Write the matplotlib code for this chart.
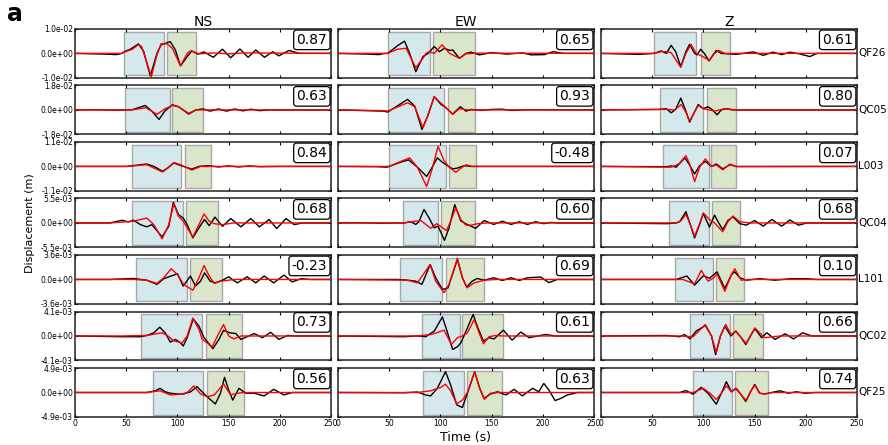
#!/usr/bin/env python
# -*- coding: utf-8 -*-

import matplotlib
matplotlib.use('Agg')
import matplotlib.pyplot as plt
from matplotlib.patches import Rectangle
import matplotlib.transforms as mtransforms

components = ['NS', 'EW', 'Z']
stations = ['QF26', 'QC05', 'L003', 'QC04', 'L101', 'QC02', 'QF25']
amps = [1.0e-2, 1.8e-2, 1.1e-2, 5.5e-3, 3.6e-3, 4.1e-3, 4.9e-3]

coefs = [
    ['0.87', '0.65', '0.61'],
    ['0.63', '0.93', '0.80'],
    ['0.84', '-0.48', '0.07'],
    ['0.68', '0.60', '0.68'],
    ['-0.23', '0.69', '0.10'],
    ['0.73', '0.61', '0.66'],
    ['0.56', '0.63', '0.74'],
]

# time windows (s): (blue start, blue end, green start, green end)
windows = [
    [(48, 86.6, 90, 118.6), (48.8, 89.8, 93.2, 133.8), (52.3, 93, 98, 125.8)],
    [(49, 92.5, 95, 125), (48.8, 103.5, 107.4, 133.5), (57.8, 99.6, 103.5, 132.4)],
    [(55.5, 103, 107, 133), (49.8, 105.9, 108.8, 134.9), (60.5, 105.2, 107.5, 132.4)],
    [(55.5, 105.6, 108.5, 139.5), (63.5, 97.7, 100.7, 134.2), (66.3, 105.2, 108.5, 136.3)],
    [(59.5, 109, 112.4, 143.8), (60.6, 102, 105.5, 143), (71.9, 109.8, 112, 139.9)],
    [(64.4, 123.8, 127.5, 162.7), (82.4, 118.8, 121.5, 161), (87.2, 125.8, 129, 158.5)],
    [(75.8, 125, 128.4, 165), (83.4, 123, 126.4, 160.5), (89.9, 128, 130.7, 163.3)],
]

# traces: (time s, amplitude as fraction of the row's axis limit)
obs = [
    [
        [(0, 0), (30, -0.03), (40, -0.05), (46, 0), (48, 0.07), (54, 0.17), (62, 0.39), (67, 0.08), (73.5, -0.92), (80, 0.0), (84, 0.35), (93, 0.48), (98, 0.14), (103, -0.51), (109.5, -0.13), (114, 0.1), (120, -0.03), (126, 0.06), (135, -0.16), (144, 0.17), (152, -0.18), (161, 0.18), (169, -0.16), (176.5, 0.14), (185, -0.16), (193, 0.07), (199, -0.1), (209, 0.12), (219, 0.0), (250, 0)],
        [(0, 0), (30, -0.03), (40, -0.05), (46, 0), (48.5, 0.0), (58, 0.31), (65, 0.5), (70, 0.0), (76, -0.75), (83, -0.13), (88, 0.0), (94, 0.28), (99, 0.07), (104, 0.21), (109, 0.12), (112, 0.14), (118.6, -0.2), (125, 0.0), (130, 0.05), (138, -0.06), (150, 0.03), (165, -0.03), (180, 0.02), (188.6, -0.06), (201.6, -0.05), (210, 0.07), (220, 0), (250, 0)],
        [(0, 0), (37.6, -0.04), (52, 0.0), (59, 0.1), (64, 0.0), (68.6, 0.33), (73, 0.07), (78, -0.54), (83, 0.07), (86.6, 0.37), (91.5, 0.0), (94, -0.06), (97.4, 0.17), (101, 0.0), (105.5, -0.31), (109.5, -0.06), (112.7, 0.12), (117.6, 0.0), (132, -0.04), (149, 0.06), (158.5, -0.08), (168, 0.05), (176.5, -0.05), (184.6, 0.05), (194, -0.02), (204, -0.13), (211, 0.0), (250, 0)],
    ],
    [
        [(0, 0), (20, 0.01), (40, -0.01), (55, 0.0), (59, 0.05), (68.6, 0.18), (75, -0.05), (82, -0.39), (87.6, -0.05), (95, 0.21), (101, 0.13), (111, -0.17), (118, 0.0), (125, 0.04), (132, -0.05), (140, 0.04), (148, -0.05), (156, 0.04), (164, -0.04), (172, 0.03), (180, -0.03), (190, 0.0), (250, 0)],
        [(0, 0), (45, -0.05), (48.5, -0.09), (56.7, 0.13), (68, 0.43), (75, 0.15), (82, -0.8), (87.6, -0.25), (94, 0.54), (100.7, 0.22), (105.5, 0.09), (112, -0.17), (119.5, 0.13), (125, -0.05), (130, 0.02), (140, -0.02), (150, 0.02), (160, 0.03), (170, -0.02), (185, 0.01), (250, 0)],
        [(0, 0), (57, 0.02), (64, 0.05), (68.6, -0.12), (73, 0.02), (78, 0.48), (83, -0.05), (86.6, -0.5), (91, -0.12), (95, 0.22), (100, 0.05), (104.6, 0.13), (109, 0.0), (113.4, -0.2), (117.6, 0.0), (122.5, 0.05), (130, 0.0), (250, 0)],
    ],
    [
        [(0, 0), (50.6, 0), (70, 0.1), (77, 0.0), (85.6, -0.2), (91.5, -0.03), (96.4, 0.14), (103, 0.04), (108, -0.03), (114, -0.11), (121, 0.0), (130, 0.03), (140, -0.02), (150, 0.02), (160, -0.02), (170, 0.02), (180, -0.01), (200, 0), (250, 0)],
        [(0, 0), (38, -0.01), (48, -0.03), (50, 0.0), (61, 0.17), (69, 0.27), (77.5, -0.03), (86.6, -0.41), (92, -0.03), (97, 0.35), (102, 0.17), (107, 0.03), (112, -0.1), (116.6, -0.07), (123, 0.03), (130, 0.0), (250, 0)],
        [(0, 0), (64, -0.01), (68.6, 0.02), (73.5, -0.03), (82, 0.35), (86, 0.1), (91.5, -0.31), (96.4, 0.03), (102, 0.21), (108, 0.0), (112.7, 0.1), (119, -0.1), (126, 0.07), (132, 0.0), (250, 0)],
    ],
    [
        [(0, 0), (34, 0), (46, 0.11), (52, 0.04), (57, 0.11), (64, -0.07), (70, -0.16), (75, -0.07), (85, -0.57), (91.5, -0.14), (96, 0.84), (101, 0.34), (105.6, 0.2), (109.5, -0.07), (115, -0.61), (121, -0.2), (126.5, 0.14), (131, -0.11), (136.6, 0.24), (144, -0.14), (152, 0.18), (162, -0.16), (171.6, 0.18), (180, -0.16), (189.5, 0.14), (197, -0.23), (206, 0.18), (214, -0.07), (222, 0.0), (250, 0)],
        [(0, 0), (20, 0.01), (40, -0.01), (58, 0.0), (64.5, 0.0), (71, 0.05), (76, -0.06), (79, 0.05), (84, 0.55), (89, 0.2), (94, -0.2), (97.7, -0.13), (104, -0.71), (108.5, -0.2), (114, 0.75), (120, 0.08), (126, -0.06), (134.5, -0.22), (142.7, 0.1), (152, -0.06), (160.6, 0.07), (169, -0.06), (177, 0.05), (185, -0.06), (193, 0.05), (201, -0.03), (208, 0.02), (215, 0), (250, 0)],
        [(0, 0), (64, -0.03), (73.5, 0.0), (77, 0.05), (83, 0.46), (87, -0.03), (91.5, -0.61), (96.4, -0.06), (100, 0.39), (106, -0.17), (111, 0.32), (115, 0.0), (119, -0.27), (124, 0.1), (129, 0.25), (135.6, -0.03), (142, -0.09), (150, 0.1), (158.5, -0.13), (167, 0.14), (176.5, -0.13), (184.6, 0.12), (193, -0.09), (201, 0.0), (250, 0)],
    ],
    [
        [(0, 0), (34, 0), (57, 0.04), (70, -0.03), (80, -0.2), (86.6, 0.03), (95, 0.16), (100, 0.23), (105.6, -0.27), (112.7, 0.14), (117.6, -0.27), (122.5, -0.07), (126.5, 0.27), (132, -0.07), (137, -0.14), (144, -0.03), (150, 0.11), (158.5, -0.14), (168, 0.11), (176.5, -0.14), (184.6, 0.14), (194, -0.14), (204, 0.18), (212, -0.1), (220.6, 0.03), (230, 0), (250, 0)],
        [(0, 0), (58, 0.0), (68, -0.03), (76, -0.07), (82, -0.2), (90, 0.61), (95.4, 0.07), (102, -0.41), (107.5, -0.34), (116.6, 0.82), (121.5, 0.07), (125.7, -0.31), (131, -0.07), (136, 0.04), (142.7, -0.03), (152, 0.07), (160.6, -0.04), (169, 0.07), (177, -0.04), (185, 0.07), (198, 0.1), (206, -0.13), (214, 0.0), (250, 0)],
        [(0, 0), (73.5, 0.0), (84, 0.14), (91.5, -0.23), (100, 0.15), (106, 0.05), (113.4, 0.31), (121, -0.37), (127.5, 0.2), (130.7, 0.31), (135.6, 0.07), (142, -0.03), (155, 0.03), (170, -0.03), (185, 0.03), (201, 0.03), (210, 0), (250, 0)],
    ],
    [
        [(0, 0), (44, -0.03), (64, -0.03), (70, 0.02), (77, 0.13), (82.7, 0.36), (88, 0.13), (93, -0.25), (98, -0.14), (103, -0.28), (105.6, -0.41), (109.5, -0.07), (115.4, 0.7), (121, 0.4), (126, -0.07), (134.6, -0.52), (140.5, -0.14), (145, 0.23), (151, 0.13), (157, 0.1), (162, -0.14), (175, 0.1), (183, -0.07), (191, 0.15), (199, -0.14), (207.5, 0.02), (215, 0), (250, 0)],
        [(0, 0), (64.5, -0.03), (77.5, 0.0), (85.7, -0.03), (94, 0.2), (102, 0.78), (107, 0.13), (112, -0.55), (116.6, -0.44), (120, -0.28), (123, 0.0), (132, 0.88), (136, 0.4), (142, -0.21), (147.5, -0.07), (152.4, -0.12), (161.5, 0.24), (170, -0.17), (178.5, 0.16), (186.6, -0.07), (194.8, 0.0), (203, 0.06), (212, 0), (250, 0)],
        [(0, 0), (64, 0.02), (77, -0.03), (81.7, 0.06), (87, -0.12), (93, 0.2), (102, 0.43), (108, 0.0), (112, -0.76), (116.7, 0.0), (121, 0.4), (127, 0.0), (131.7, 0.2), (137, -0.07), (141.5, -0.35), (146, 0.0), (150.3, 0.3), (157, -0.07), (162, 0.13), (170, -0.14), (180, 0.09), (188, -0.12), (197, 0.13), (206, 0.0), (250, 0)],
    ],
    [
        [(0, 0), (70, 0.0), (78.4, 0.07), (83, 0.17), (88, 0.03), (93, -0.03), (100, -0.06), (106, -0.06), (113, 0.03), (119, 0.24), (124, 0.03), (129, -0.17), (137, -0.47), (142, -0.03), (146, 0.62), (150, 0.1), (154, -0.31), (160, 0.17), (166.7, -0.03), (174.8, -0.03), (184.6, -0.14), (194, 0.13), (204, -0.1), (212, 0.0), (250, 0)],
        [(0, 0), (64.5, -0.01), (77.5, 0.02), (85.7, -0.1), (90.5, -0.14), (97, 0.17), (105, 0.85), (110, 0.31), (116, -0.51), (121.5, -0.61), (126.4, -0.03), (133.5, 0.85), (138, 0.21), (142.7, -0.24), (148.5, -0.07), (155.7, 0.03), (164, -0.1), (172, 0.13), (180, -0.14), (190, 0.17), (196, 0.03), (201, 0.37), (206, 0.1), (212, -0.33), (217.6, -0.24), (224, -0.1), (234, 0.0), (250, 0)],
        [(0, 0), (77, 0.0), (83, 0.08), (90, -0.07), (98, 0.21), (104.6, -0.03), (112.7, -0.48), (117.6, -0.03), (122.5, 0.44), (127.5, 0.03), (131.7, 0.17), (137, -0.1), (141.5, -0.37), (146, 0.03), (150.3, 0.33), (155, -0.03), (160, -0.06), (166.7, 0.0), (175, 0.07), (183, -0.03), (191, 0.03), (199, -0.03), (210, 0.0), (250, 0)],
    ],
]

syn = [
    [
        [(0, 0), (45, 0), (48, 0.05), (56, 0.17), (62, 0.36), (65, 0.28), (74.5, -0.95), (80, -0.06), (84, 0.39), (90, 0.39), (95, 0.21), (103, -0.51), (109.5, 0.0), (113, 0.11), (121, -0.02), (135, 0.02), (150, -0.02), (165, 0.02), (250, 0)],
        [(0, 0), (45, 0), (48.5, 0), (58, 0.17), (66.5, 0.21), (76, -0.58), (83, -0.2), (86, 0.0), (89, 0.07), (94, 0.0), (101.6, 0.35), (109, 0.0), (118.6, -0.2), (125, -0.02), (135, 0.01), (250, 0)],
        [(0, 0), (52, 0.0), (59, 0.07), (64, 0.07), (68.6, 0.03), (78, -0.57), (83, 0.0), (88, 0.37), (93, 0.0), (98, -0.1), (106, -0.29), (111, 0.0), (115, 0.12), (121, 0.0), (250, 0)],
    ],
    [
        [(0, 0), (55, 0), (59, 0.02), (69, 0.09), (80, -0.18), (88, 0.05), (95, 0.18), (101, 0.13), (111, -0.14), (118, 0.0), (250, 0)],
        [(0, 0), (45, -0.03), (48.5, -0.05), (60, 0.15), (68, 0.29), (75, 0.13), (83, -0.73), (87.6, -0.25), (94, 0.54), (100.7, 0.27), (105.5, 0.09), (112, -0.18), (118.6, 0.05), (127, 0.0), (250, 0)],
        [(0, 0), (64, 0.02), (72, 0.0), (78.4, 0.22), (83, -0.09), (86.6, -0.46), (91, -0.12), (95, 0.18), (100, 0.05), (106, 0.0), (111, -0.05), (121, 0.05), (128, 0.0), (250, 0)],
    ],
    [
        [(0, 0), (50.6, 0), (70, 0.07), (85.6, -0.23), (91.5, -0.03), (96.4, 0.16), (103, 0.07), (114, -0.15), (122.5, 0.0), (250, 0)],
        [(0, 0), (50, 0.0), (61, 0.2), (70, 0.35), (77.5, -0.03), (86.6, -0.82), (92, -0.1), (97.7, 0.82), (103.6, 0.24), (108.5, -0.03), (115, -0.24), (121.5, -0.03), (125, 0.07), (131, 0.0), (250, 0)],
        [(0, 0), (68.6, -0.03), (76, 0.1), (83, 0.44), (86.6, 0.1), (91.5, -0.62), (96.4, -0.03), (102, 0.31), (108, 0.0), (112.7, 0.06), (119, -0.14), (126, 0.1), (132, -0.01), (250, 0)],
    ],
    [
        [(0, 0), (34, 0), (57, 0.07), (70, 0.2), (77, -0.07), (85, -0.65), (91.5, -0.07), (96.4, 0.78), (101, 0.27), (105.6, 0.07), (115, -0.57), (121, -0.07), (126, 0.37), (131, 0.07), (136, -0.03), (144, -0.07), (155, 0.0), (250, 0)],
        [(0, 0), (64.5, 0.0), (81, 0.1), (90.5, -0.22), (96.4, -0.03), (106, -0.31), (110, 0.07), (115, 0.62), (120, 0.14), (125, -0.09), (130, -0.09), (136.6, -0.03), (145, 0.0), (250, 0)],
        [(0, 0), (73.5, 0.0), (78.4, 0.1), (83, 0.35), (87, -0.03), (91.5, -0.54), (96.4, -0.03), (100, 0.41), (106, 0.14), (111, 0.0), (119, -0.36), (124, 0.05), (129, 0.28), (135.6, 0.05), (145, 0.0), (250, 0)],
    ],
    [
        [(0, 0), (57, 0.0), (70, -0.03), (80, -0.16), (86.6, 0.07), (94, 0.44), (100, 0.2), (106, -0.2), (115, -0.44), (121, 0.07), (126, 0.57), (131, 0.14), (136, -0.16), (142, -0.07), (155.6, 0.0), (250, 0)],
        [(0, 0), (68, -0.03), (77.5, -0.14), (90, 0.61), (95.4, -0.07), (103.6, -0.54), (108.5, -0.2), (116.6, 0.86), (121.5, 0.07), (126, -0.34), (133, -0.14), (142.7, -0.03), (155, 0.0), (250, 0)],
        [(0, 0), (80, 0.0), (91.5, -0.18), (98, 0.37), (104.6, -0.07), (109.5, 0.04), (113.4, 0.23), (121, -0.48), (127.5, 0.2), (130.7, 0.44), (137, -0.03), (145, 0.0), (250, 0)],
    ],
    [
        [(0, 0), (44, 0.0), (70, 0.02), (85, 0.13), (90, 0.02), (96.4, -0.2), (104.6, -0.28), (109.5, 0.0), (115, 0.73), (121, 0.27), (124, -0.12), (134, -0.45), (139, 0.0), (145, 0.47), (150, 0.0), (155, -0.12), (162, 0.0), (250, 0)],
        [(0, 0), (77.5, 0.0), (90.5, 0.06), (96.4, 0.13), (103.6, 0.24), (110.7, -0.35), (116.6, -0.07), (121.5, 0.0), (126.4, 0.13), (133, 0.67), (137.8, 0.13), (142, -0.32), (147.5, -0.03), (154, 0.02), (162, 0.0), (250, 0)],
        [(0, 0), (77, 0.0), (90, -0.03), (102, 0.47), (108, 0.0), (112.7, -0.69), (116.7, 0.0), (122, 0.47), (127, 0.06), (131.7, 0.2), (137, -0.07), (142, -0.31), (146, 0.0), (150.3, 0.33), (155, 0.13), (160, -0.07), (168, -0.03), (175, 0.0), (250, 0)],
    ],
    [
        [(0, 0), (70, 0.0), (83, 0.07), (93, -0.1), (103, -0.07), (109.5, 0.0), (116, 0.27), (122.5, -0.06), (129, -0.17), (136, -0.1), (145, 0.35), (152, -0.1), (158, -0.03), (165, 0.0), (250, 0)],
        [(0, 0), (77.5, 0.0), (90.5, 0.07), (100, 0.2), (105, 0.34), (110, 0.07), (116, -0.47), (121.5, -0.31), (126.4, 0.0), (133.5, 0.85), (139, 0.1), (143, -0.28), (149, -0.03), (155.7, 0.0), (250, 0)],
        [(0, 0), (90, 0.0), (100, 0.17), (106.5, -0.03), (112.7, -0.28), (117.6, -0.03), (122.5, 0.27), (127.5, 0.03), (132.4, 0.17), (137, -0.1), (142, -0.33), (146, 0.03), (150.3, 0.3), (155, -0.03), (160, -0.06), (168, 0.0), (250, 0)],
    ],
]


def main():
    fig, axes = plt.subplots(7, 3, figsize=(8.88, 4.45), dpi=100, sharex=True)
    fig.subplots_adjust(left=0.0845, right=0.965, top=0.935, bottom=0.063,
                        hspace=0.155, wspace=0.027)

    for i in range(7):
        amp = amps[i]
        for j in range(3):
            ax = axes[i, j]
            trans = mtransforms.blended_transform_factory(ax.transData, ax.transAxes)
            b0, b1, g0, g1 = windows[i][j]
            ax.add_patch(Rectangle((b0, 0.05), b1 - b0, 0.89, transform=trans,
                                   facecolor='#d5e8eb', edgecolor='#a8a8a8', lw=1.0, zorder=1))
            ax.add_patch(Rectangle((g0, 0.05), g1 - g0, 0.89, transform=trans,
                                   facecolor='#d9e6cc', edgecolor='#a8a8a8', lw=1.0, zorder=1))

            t = [p[0] for p in obs[i][j]]
            a = [p[1] * amp for p in obs[i][j]]
            ax.plot(t, a, color='black', lw=1.0, zorder=3)
            t = [p[0] for p in syn[i][j]]
            a = [p[1] * amp for p in syn[i][j]]
            ax.plot(t, a, color='red', lw=1.0, zorder=4)

            ax.set_xlim(0, 250)
            ax.set_ylim(-amp, amp)
            ax.set_xticks([0, 50, 100, 150, 200, 250])
            ax.set_yticks([-amp, 0, amp])
            ax.tick_params(direction='in', top=True, right=True, length=2.5,
                           width=0.8, labelsize=5.5, pad=1.5)
            if j == 0:
                ax.set_yticklabels(['%.1e' % (-amp), '0.0e+00', '%.1e' % amp])
            else:
                ax.set_yticklabels([])
            for s in ax.spines.values():
                s.set_linewidth(1.1)
                s.set_color('#222222')

            ax.text(0.985, 0.92, coefs[i][j], transform=ax.transAxes, ha='right', va='top',
                    fontsize=10, zorder=6,
                    bbox=dict(boxstyle='round,pad=0.2', fc='white', ec='black', lw=0.9))
            if i == 0:
                ax.set_title(components[j], fontsize=10, pad=2)
            if j == 2:
                ax.text(1.006, 0.5, stations[i], transform=ax.transAxes, ha='left',
                        va='center', fontsize=7.5)

    axes[3, 0].set_ylabel('Displacement (m)', fontsize=8, labelpad=4)
    axes[6, 1].set_xlabel('Time (s)', fontsize=9, labelpad=2)
    fig.text(0.008, 0.995, 'a', fontsize=17, fontweight='bold', ha='left', va='top')

    plt.savefig('out.png', dpi=100)


if __name__ == '__main__':
    main()
